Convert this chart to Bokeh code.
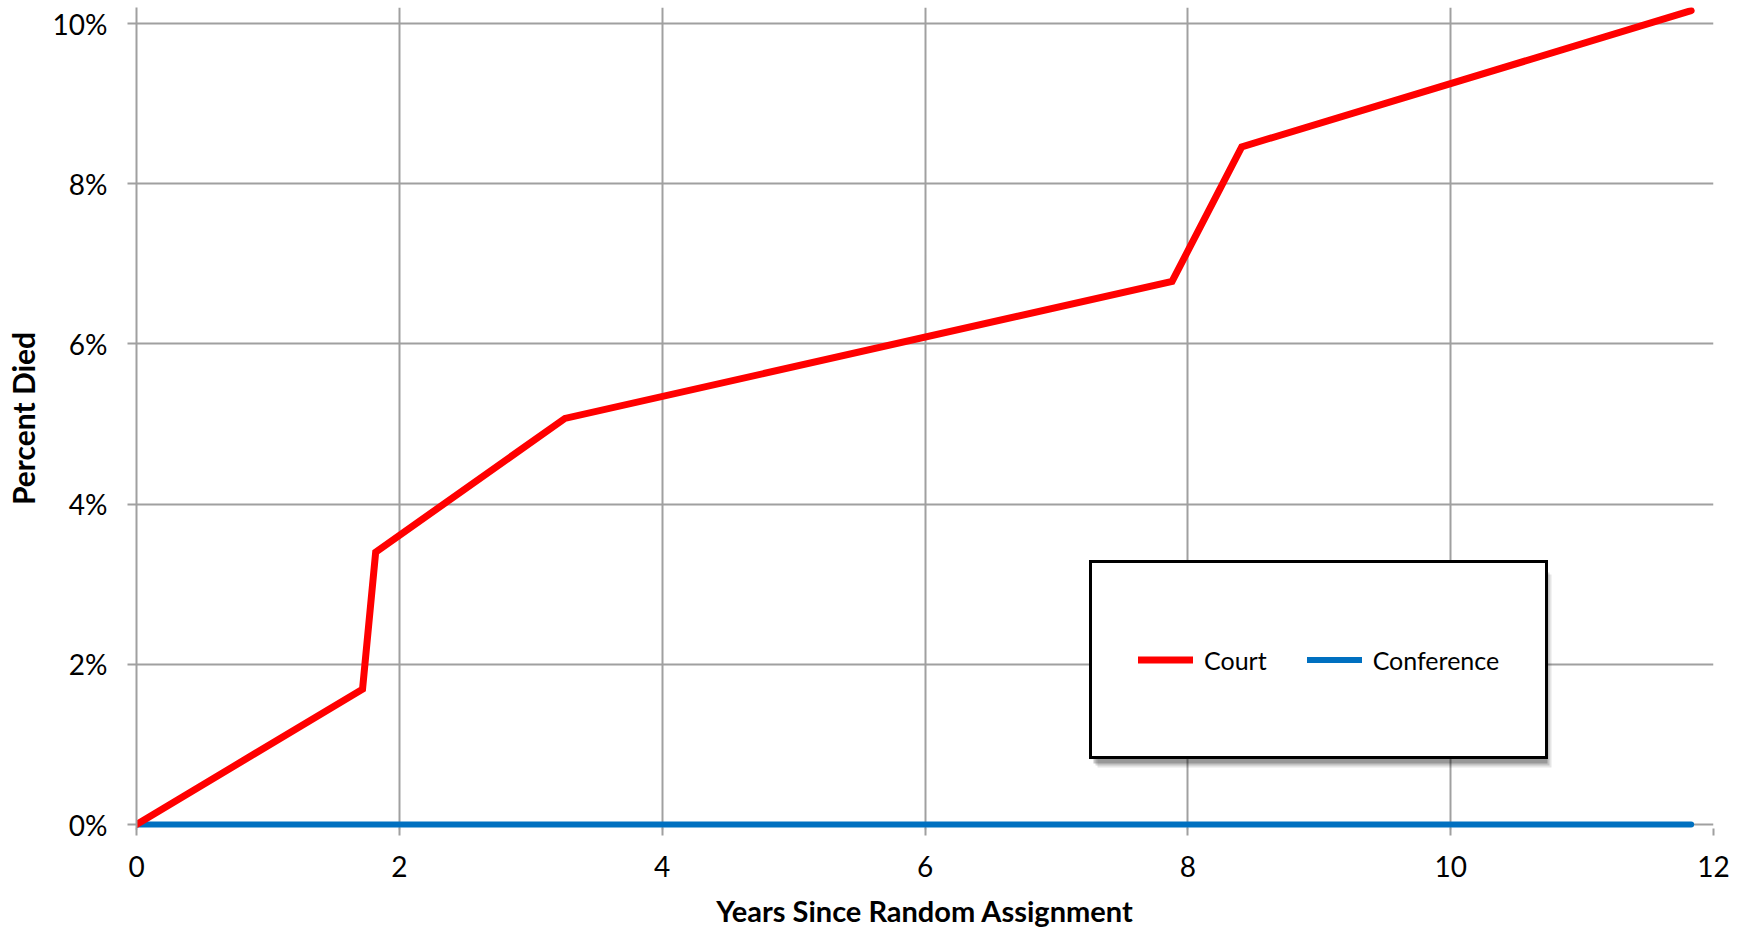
from bokeh.plotting import figure
from bokeh.models import (Range1d, FixedTicker, PrintfTickFormatter, Legend, LegendItem,
                          BoxAnnotation)
from bokeh.embed import file_html
from bokeh.resources import INLINE

# Data (years since random assignment, percent died)
court_years = [0.0, 1.72, 1.82, 3.26, 7.88, 8.41, 11.83]
court_pct = [0.0, 1.69, 3.40, 5.07, 6.78, 8.46, 10.16]
conf_years = [0.0, 11.83]
conf_pct = [0.0, 0.0]
x_ticks = [0, 2, 4, 6, 8, 10, 12]
y_ticks = [0, 2, 4, 6, 8, 10]

FONT = "Lato"
GRID = "#a0a0a0"

p = figure(width=1740, height=930, output_backend="svg", toolbar_location=None,
           x_range=Range1d(0, 12), y_range=Range1d(-0.0624, 10.2),
           min_border_left=136, min_border_right=27, min_border_top=7, min_border_bottom=101)
p.outline_line_color = None
p.background_fill_color = "white"
p.border_fill_color = "white"

p.xaxis.ticker = FixedTicker(ticks=x_ticks)
p.yaxis.ticker = FixedTicker(ticks=y_ticks)
p.yaxis.formatter = PrintfTickFormatter(format="%d%%")

for ax in (p.xaxis, p.yaxis):
    ax.axis_line_color = GRID
    ax.axis_line_width = 2
    ax.major_tick_line_color = GRID
    ax.major_tick_line_width = 2
    ax.major_tick_in = 0
    ax.minor_tick_line_color = None
    ax.major_label_text_font = FONT
    ax.major_label_text_font_size = "28px"
    ax.major_label_text_color = "black"
    ax.axis_label_text_font = FONT
    ax.axis_label_text_font_style = "bold"
    ax.axis_label_text_color = "black"

p.xaxis.axis_label_text_font_size = "29px"
p.yaxis.axis_label_text_font_size = "30px"
p.xaxis.axis_line_color = None
p.xaxis.major_tick_in = 1
p.xaxis.major_tick_out = 6
p.yaxis.major_tick_out = 9
p.xaxis.major_label_standoff = 20
p.yaxis.major_label_standoff = 20
p.xaxis.axis_label = "Years Since Random Assignment"
p.yaxis.axis_label = "Percent Died"
p.xaxis.axis_label_standoff = 13
p.yaxis.axis_label_standoff = 9

p.xgrid.ticker = FixedTicker(ticks=x_ticks)
p.ygrid.ticker = FixedTicker(ticks=y_ticks)
for g in (p.xgrid, p.ygrid):
    g.grid_line_color = GRID
    g.grid_line_width = 2

conf = p.line(conf_years, conf_pct, line_color="#0070c0", line_width=6, line_cap="round")
court = p.line(court_years, court_pct, line_color="#ff0000", line_width=7,
               line_cap="round", line_join="miter")

# legend drop shadow (screen units, relative to frame bottom-left)
LX, LY, LW, LH = 953, 70, 454, 193
for off, a in ((8, 0.10), (6, 0.15), (4, 0.22)):
    p.add_layout(BoxAnnotation(left=LX + off, right=LX + LW + off, bottom=LY - off, top=LY + LH - off,
                               left_units="screen", right_units="screen",
                               bottom_units="screen", top_units="screen",
                               fill_color="black", fill_alpha=a, line_color=None))

legend = Legend(items=[LegendItem(label="Court", renderers=[court]),
                       LegendItem(label="Conference", renderers=[conf])],
                orientation="horizontal", location=(LX, LY),
                padding=46, spacing=40, glyph_width=55, glyph_height=101, label_height=101,
                label_standoff=11, label_text_font=FONT, label_text_font_size="25px",
                label_text_color="black",
                border_line_color="black", border_line_width=3, border_line_alpha=1.0,
                background_fill_color="white", background_fill_alpha=1.0, margin=0)
p.add_layout(legend, "center")

open("out.html", "w").write(file_html(p, INLINE))
